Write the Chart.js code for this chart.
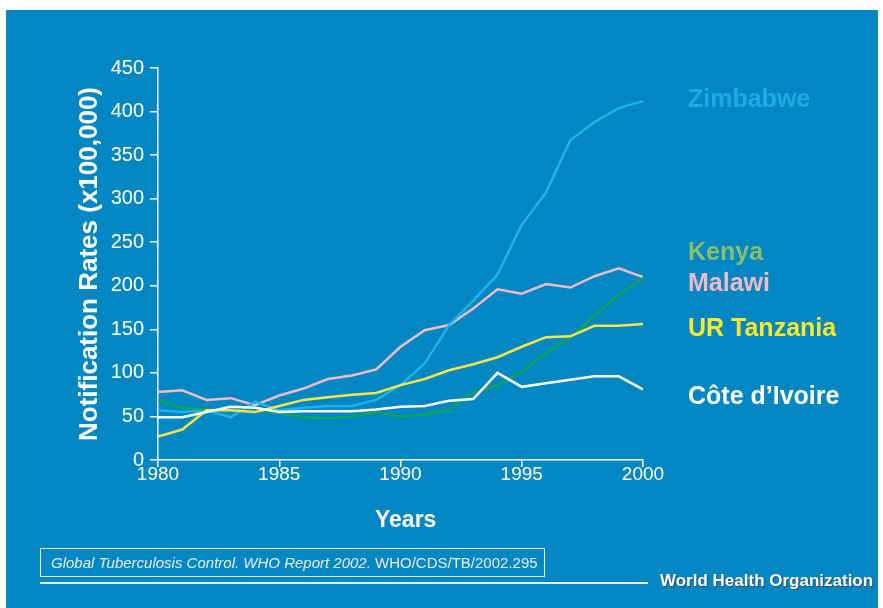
<!DOCTYPE html>
<html>
<head>
<meta charset="utf-8">
<script src="https://cdn.jsdelivr.net/npm/chart.js@4"></script>
<style>
  html, body { margin: 0; padding: 0; background: #ffffff; }
  #wrap { position: relative; width: 883px; height: 608px; overflow: hidden; }
  #bg { position: absolute; left: 6px; top: 10px; width: 872px; height: 598px; background: #0387c2; }
  canvas { position: absolute; left: 0; top: 0; }
  .lbl { position: absolute; left: 688px; font: bold 25px "Liberation Sans", Arial, sans-serif; white-space: nowrap; line-height: 1; }
  #xtitle { position: absolute; left: 375px; top: 508px; color: #ffffff; font: bold 23px "Liberation Sans", Arial, sans-serif; line-height: 1; }
  #ref { position: absolute; left: 40px; top: 548px; width: 503px; height: 27px; border: 1px solid #dfe9f2;
         color: #e6eef5; font: 15px "Liberation Sans", Arial, sans-serif; line-height: 27px; box-sizing: content-box; }
  #ref span { padding-left: 10px; }
  #rule { position: absolute; left: 40px; top: 582px; width: 608px; height: 2px; background: #e3edf5; }
  #who { position: absolute; left: 660px; top: 571px; color: #ffffff; font: bold 17px "Liberation Sans", Arial, sans-serif;
         text-shadow: 1px 1px 1px #3a4a55; white-space: nowrap; }
</style>
</head>
<body>
<div id="wrap">
  <div id="bg"></div>
  <canvas id="chart" width="883" height="608"></canvas>
  <div id="xtitle">Years</div>
  <div class="lbl" style="top:86px;color:#1eaae2;">Zimbabwe</div>
  <div class="lbl" style="top:239px;color:#86c06c;">Kenya</div>
  <div class="lbl" style="top:270px;color:#f4bac6;">Malawi</div>
  <div class="lbl" style="top:315px;color:#ffe92e;">UR Tanzania</div>
  <div class="lbl" style="top:383px;color:#ffffff;">Côte d’Ivoire</div>
  <div id="ref"><span><i>Global Tuberculosis Control. WHO Report 2002.</i> WHO/CDS/TB/2002.295</span></div>
  <div id="rule"></div>
  <div id="who">World Health Organization</div>
</div>
<script>
// Notification rates per 100,000
const years = [1980, 1981, 1982, 1983, 1984, 1985, 1986, 1987, 1988, 1989, 1990,
               1991, 1992, 1993, 1994, 1995, 1996, 1997, 1998, 1999, 2000];
const zimbabwe = [57, 55, 57, 49, 67, 57, 60, 62, 62, 69, 86, 111, 155, 183, 213, 270, 307, 367, 388, 404, 412];
const kenya = [69, 60, 58, 57, 56, 54, 49, 48, 50, 55, 50, 52, 58, 78, 86, 101, 123, 140, 166, 190, 209];
const malawi = [78, 80, 69, 71, 63, 74, 82, 93, 97, 104, 130, 149, 155, 174, 196, 191, 202, 198, 211, 220, 210];
const tanzania = [27, 35, 57, 57, 55, 62, 69, 72, 75, 77, 86, 93, 103, 110, 118, 130, 141, 142, 154, 154, 156];
const coteDIvoire = [49, 49, 55, 61, 60, 55, 56, 56, 56, 58, 61, 62, 68, 70, 100, 84, 88, 92, 96, 96, 81];
const yTicks = [0, 50, 100, 150, 200, 250, 300, 350, 400, 450];
const xTicks = [1980, 1985, 1990, 1995, 2000];

function toPoints(values) {
    return values.map((v, i) => ({ x: years[i], y: v }));
}

function series(label, values, color) {
    return {
        label: label,
        data: toPoints(values),
        borderColor: color,
        borderWidth: 2.5,
        pointRadius: 0,
        tension: 0,
        fill: false
    };
}

const font = '"Liberation Sans", Arial, sans-serif';

new Chart(document.getElementById('chart'), {
    type: 'line',
    data: {
        datasets: [
            series('Côte d’Ivoire', coteDIvoire, '#ffffff'),
            series('UR Tanzania', tanzania, '#f6e64a'),
            series('Kenya', kenya, '#11a25c'),
            series('Zimbabwe', zimbabwe, '#1cb4ec'),
            series('Malawi', malawi, '#eebccb')
        ]
    },
    options: {
        responsive: false,
        animation: false,
        layout: { padding: { top: 68, left: 0, right: 240, bottom: 0 } },
        plugins: { legend: { display: false }, tooltip: { enabled: false } },
        scales: {
            x: {
                type: 'linear',
                min: 1980,
                max: 2000,
                afterFit: scale => { scale.height = 148; },
                afterBuildTicks: scale => { scale.ticks = xTicks.map(v => ({ value: v })); },
                ticks: {
                    color: '#ffffff',
                    font: { family: font, size: 19 },
                    padding: -4,
                    maxRotation: 0,
                    callback: v => String(v)
                },
                grid: { drawOnChartArea: false, color: '#ffffff', tickLength: 7, lineWidth: 1.5 },
                border: { color: '#ffffff', width: 1.5 }
            },
            y: {
                min: 0,
                max: 450,
                afterFit: scale => { scale.width = 158; },
                afterBuildTicks: scale => { scale.ticks = yTicks.map(v => ({ value: v })); },
                ticks: {
                    color: '#ffffff',
                    font: { family: font, size: 20 },
                    padding: 6
                },
                grid: { drawOnChartArea: false, color: '#ffffff', tickLength: 8, lineWidth: 1.5 },
                border: { color: '#ffffff', width: 1.5 },
                title: {
                    display: true,
                    text: 'Notification Rates (x100,000)',
                    color: '#ffffff',
                    font: { family: font, size: 26, weight: 'bold' },
                    padding: { top: 74, bottom: 0 }
                }
            }
        }
    }
});
</script>
</body>
</html>
